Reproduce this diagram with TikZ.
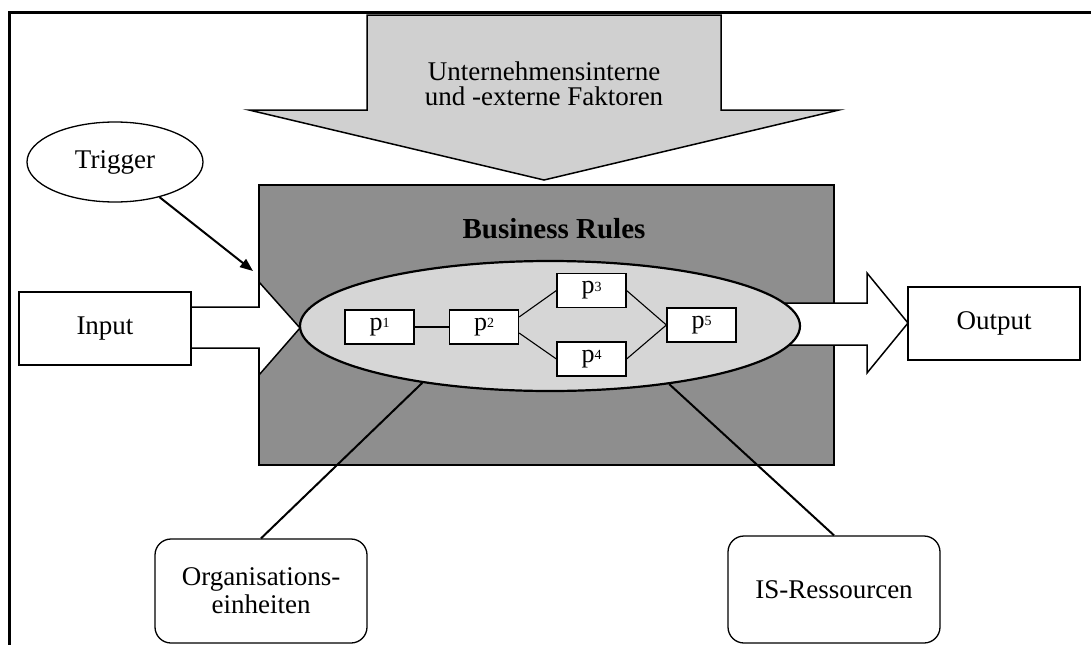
\documentclass[tikz,border=0pt]{standalone}
\usepackage{fontspec}
\setmainfont{Liberation Serif}
\usetikzlibrary{shapes.geometric,arrows.meta}
\definecolor{darkfill}{RGB}{142,142,142}
\definecolor{lightfill}{RGB}{208,208,208}
\definecolor{ellfill}{RGB}{214,214,214}
\newcommand\plabel[1]{p\raisebox{2.5pt}{\fontsize{14}{14}\selectfont #1}}
\begin{document}
\begin{tikzpicture}[x=1pt,y=-1pt,
  lbl/.style={font=\fontsize{27}{28}\selectfont, align=center},
  box/.style={draw, line width=1.3pt, fill=white, inner sep=0pt, lbl},
  rbox/.style={box, rounded corners=16pt},
  pbox/.style={draw, line width=1.2pt, fill=white, minimum width=69pt, minimum height=34pt, inner sep=0pt, font=\fontsize{26}{26}\selectfont},
  outline/.style={draw=black, line width=1.5pt},
  conn/.style={line width=2pt},
  pconn/.style={line width=1.1pt}
]
\useasboundingbox (0,0) rectangle (1091,645);
\draw[line width=3pt] (1091,12) -- (9.5,12) -- (9.5,645);

% top block arrow
\filldraw[outline, fill=lightfill] (367,15) -- (721,15) -- (721,110) -- (839,110) -- (544,180) -- (249,110) -- (367,110) -- cycle;
\node[lbl, font=\fontsize{27}{25}\selectfont] (factors) at (544,84) {Unternehmensinterne\\und -externe Faktoren};

% business rules area
\node[draw, line width=1.5pt, fill=darkfill, minimum width=575pt, minimum height=280pt, inner sep=0pt, anchor=north west] (br) at (258,184) {};
\node[font=\bfseries\fontsize{29}{29}\selectfont] (brlabel) at (554,229) {Business Rules};

% input / output boxes
\node[box, minimum width=172pt, minimum height=73pt] (input) at (105,328.5) {Input};
\node[box, minimum width=172pt, minimum height=73pt] (output) at (994,323.5) {Output};

% input block arrow
\filldraw[outline, fill=white] (191,307) -- (259,307) -- (259,282) -- (300,328) -- (259,375) -- (259,348) -- (191,348) -- cycle;
% output block arrow
\fill[white] (785,303) -- (867,303) -- (867,273) -- (908,323) -- (867,373) -- (867,345) -- (785,345) -- cycle;
\draw[outline] (785,303) -- (867,303) -- (867,273) -- (908,323) -- (867,373) -- (867,345) -- (785,345);

% process ellipse
\node[ellipse, draw, line width=2.2pt, fill=ellfill, minimum width=500pt, minimum height=130pt, inner sep=0pt] (proc) at (550,326) {};

% processes
\node[pbox] (p1) at (379.5,327) {\plabel{1}};
\node[pbox] (p2) at (484,327) {\plabel{2}};
\node[pbox] (p3) at (591.5,290.5) {\plabel{3}};
\node[pbox] (p4) at (591.5,359) {\plabel{4}};
\node[pbox] (p5) at (701.5,325) {\plabel{5}};
\draw[pconn] (p1.east) -- (p2.west);
\draw[pconn] ([yshift=10pt]p2.east) -- (p3.west);
\draw[pconn] ([yshift=-6pt]p2.east) -- (p4.west);
\draw[pconn] (p3.east) -- (p5.west);
\draw[pconn] (p4.east) -- (p5.west);

% trigger
\node[ellipse, draw, line width=1.3pt, minimum width=176pt, minimum height=80pt, inner sep=0pt, lbl] (trigger) at (115,162) {Trigger};
\coordinate (trigtip) at (253,271);
\draw[conn, -{Triangle[length=13pt,width=10pt]}] (trigger) -- (trigtip);

% resources
\node[rbox, minimum width=212pt, minimum height=104pt] (org) at (261,591) {Organisations-\\einheiten};
\node[rbox, minimum width=212pt, minimum height=107pt] (is) at (834,589.5) {IS-Ressourcen};
\draw[conn] (org.north) -- (proc.204);
\draw[conn] (is.north) -- (proc.334);
\end{tikzpicture}
\end{document}
